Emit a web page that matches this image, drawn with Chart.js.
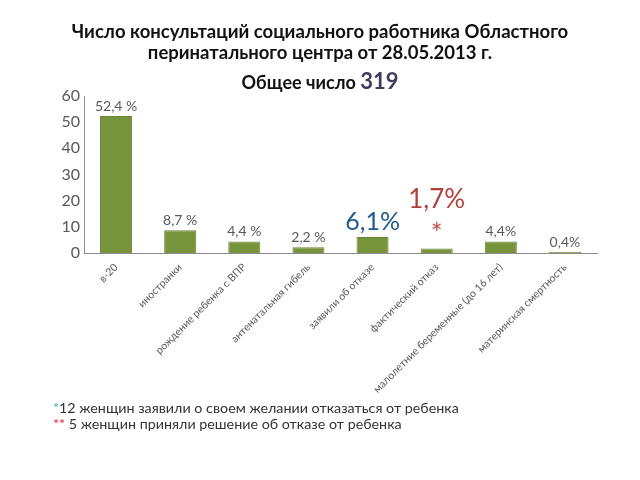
<!DOCTYPE html>
<html><head><meta charset="utf-8">
<script src="https://cdn.jsdelivr.net/npm/chart.js@4"></script>
<style>
html,body{margin:0;padding:0;background:#fff;}
#wrap{position:relative;width:640px;height:480px;overflow:hidden;}
canvas{position:absolute;left:0;top:0;}
.t{position:absolute;left:0;width:640px;text-align:center;font-family:Lato,"Open Sans",sans-serif;font-weight:bold;color:#111;}
.f{position:absolute;left:53px;font-family:Lato,"Open Sans",sans-serif;font-size:14.3px;color:#333;}
</style></head>
<body><div id="wrap">
<canvas id="c" width="640" height="480"></canvas>
<div class="t" style="top:21px;font-size:18.5px;line-height:21px;">Число консультаций социального работника Областного<br>перинатального центра от 28.05.2013 г.</div>
<div class="t" style="top:69px;font-size:18px;line-height:24px;">Общее число <span style="font-size:22px;color:#3d3d5c;">319</span></div>
<div class="f" style="top:399px;"><span style="color:#4bacc6;">*</span>12 женщин заявили о своем желании отказаться от ребенка</div>
<div class="f" style="top:415px;"><span style="color:#e0203a;">**</span> 5 женщин приняли решение об отказе от ребенка</div>
</div>
<script>
const categories = ["в-20","иностранки","рождение ребенка с ВПР","антенатальная гибель","заявили об отказе","фактический отказ","малолетние беременные (до 16 лет)","материнская смертность"];
const values = [52.4, 8.7, 4.4, 2.2, 6.1, 1.7, 4.4, 0.4];
const valueLabels = ["52,4 %","8,7 %","4,4 %","2,2 %","6,1%","1,7%","4,4%","0,4%"];
const yTicks = [0,10,20,30,40,50,60];

const labelColors = ["#595959","#595959","#595959","#595959","#1f5a8c","#b0413a","#595959","#595959"];
const labelSizes = [14,14,14,14,25,26,14,14];

const valuePlugin = {
  id:'vals',
  afterDatasetsDraw(chart){
    const ctx = chart.ctx;
    const meta = chart.getDatasetMeta(0);
    meta.data.forEach((bar,i)=>{
      ctx.save();
      ctx.fillStyle = labelColors[i];
      ctx.font = labelSizes[i] + 'px Lato, "Open Sans", sans-serif';
      ctx.textAlign = 'center';
      ctx.textBaseline = 'alphabetic';
      let y = bar.y - 5;
      if (i === 5) {
        ctx.font = '28px Lato, sans-serif';
        ctx.fillStyle = '#c0504d';
        ctx.fillText('*', bar.x, bar.y - 5);
        ctx.font = labelSizes[i] + 'px Lato, "Open Sans", sans-serif';
        ctx.fillStyle = labelColors[i];
        y = bar.y - 41;
      } else if (i === 4) {
        y = bar.y - 7;
      }
      ctx.fillText(valueLabels[i], bar.x, y);
      ctx.restore();
    });
  }
};

new Chart(document.getElementById('c'), {
  type:'bar',
  data:{labels:categories, datasets:[{data:values, backgroundColor:'#77933c', borderColor:'#6b8735', borderWidth:1, barPercentage:0.5, categoryPercentage:1}]},
  options:{
    responsive:false, animation:false,
    layout:{padding:{top:96,right:43,left:0,bottom:0}},
    plugins:{legend:{display:false},tooltip:{enabled:false},title:{display:false}},
    scales:{
      x:{
        grid:{display:false, drawTicks:false},
        border:{color:'#8c8c8c'},
        ticks:{maxRotation:45,minRotation:45,autoSkip:false,color:'#595959',font:{family:'Lato, "Open Sans", sans-serif',size:10.5},padding:8},
        afterFit(s){ s.height = 227; }
      },
      y:{
        min:0,max:60,
        afterBuildTicks(s){ s.ticks = yTicks.map(v=>({value:v})); },
        grid:{display:false, drawTicks:false},
        border:{color:'#8c8c8c'},
        ticks:{color:'#595959',font:{family:'Lato, "Open Sans", sans-serif',size:16},padding:4},
        afterFit(s){ s.width = 84; }
      }
    }
  },
  plugins:[valuePlugin]
});
</script>
</body></html>
